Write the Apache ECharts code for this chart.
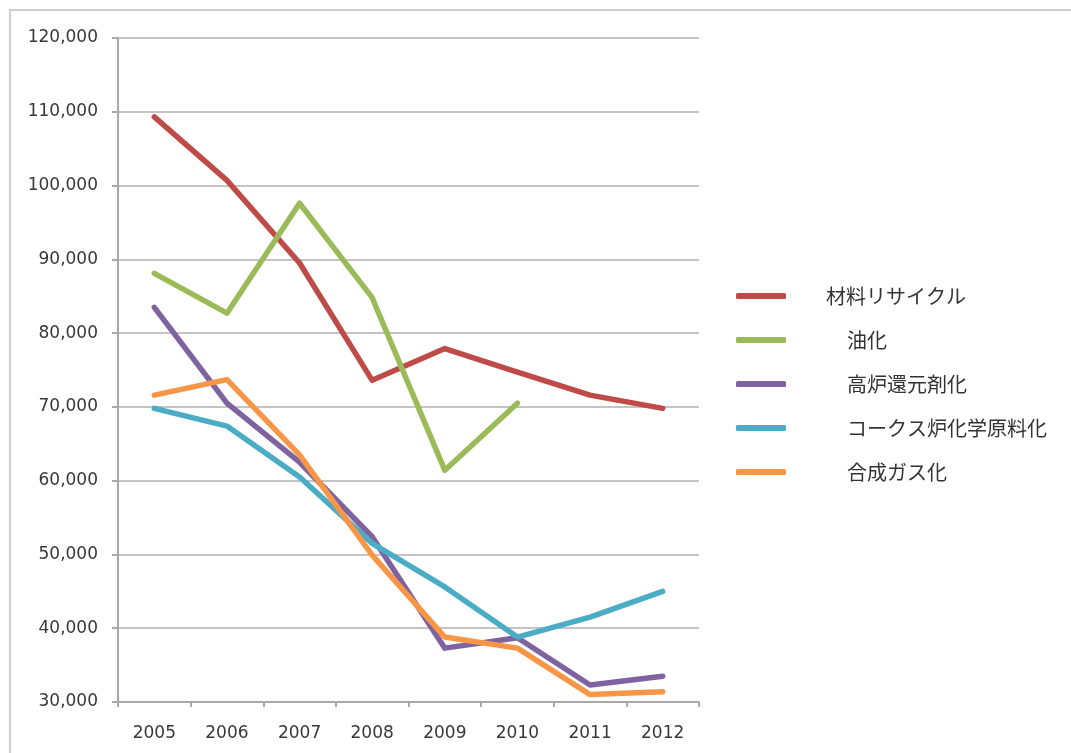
<!DOCTYPE html>
<html>
<head>
<meta charset="utf-8">
<script src="https://cdn.jsdelivr.net/npm/echarts@6/dist/echarts.min.js"></script>
<style>
  html, body { margin: 0; padding: 0; background: #fff; }
  #chart { width: 1071px; height: 753px; }
</style>
</head>
<body>
<div id="chart"></div>
<script>
// Years on the horizontal axis
const years = ['2005', '2006', '2007', '2008', '2009', '2010', '2011', '2012'];

// Series values per year
const materialRecycling = [109300, 100700, 89500, 73600, 77900, 74700, 71600, 69800];
const oilConversion     = [88100, 82700, 97600, 84800, 61400, 70500, null, null];
const blastFurnace      = [83500, 70500, 62500, 52400, 37300, 38700, 32300, 33500];
const cokeOven          = [69800, 67400, 60500, 51500, 45600, 38800, 41500, 45000];
const synGas            = [71600, 73700, 63500, 49900, 38800, 37300, 31000, 31400];

// Series names
const seriesNames = ['材料リサイクル', '油化', '高炉還元剤化', 'コークス炉化学原料化', '合成ガス化'];
const seriesData = [materialRecycling, oilConversion, blastFurnace, cokeOven, synGas];
const seriesColors = ['#BE4B48', '#9BBB59', '#7F63A1', '#4BACC6', '#F79646'];

// Y axis range
const yMin = 30000, yMax = 120000, yStep = 10000;

const chart = echarts.init(document.getElementById('chart'), null, { renderer: 'canvas' });

const numFont = '"DejaVu Sans", "Noto Sans", sans-serif';
const cjkFont = '"Noto Sans CJK JP", "Noto Sans", sans-serif';

chart.setOption({
  backgroundColor: '#ffffff',
  animation: false,
  graphic: [{
    type: 'polyline',
    shape: { points: [[10, 760], [10, 10], [1080, 10]] },
    style: { stroke: '#cfcfcf', lineWidth: 2, fill: null },
    silent: true
  }],
  grid: { left: 118, right: 372, top: 38, bottom: 51 },
  legend: {
    orient: 'vertical',
    left: 731,
    top: 280,
    itemWidth: 50,
    itemHeight: 6,
    itemGap: 22,
    icon: 'roundRect',
    data: seriesNames,
    formatter: function (name) {
      return (name === seriesNames[0] ? '{a|' : '{b|') + name + '}';
    },
    textStyle: {
      fontFamily: cjkFont,
      fontSize: 20,
      color: '#333',
      lineHeight: 22,
      rich: {
        a: { fontFamily: cjkFont, fontSize: 20, color: '#333', padding: [0, 0, 0, 35] },
        b: { fontFamily: cjkFont, fontSize: 20, color: '#333', padding: [0, 0, 0, 56] }
      }
    }
  },
  xAxis: {
    type: 'category',
    data: years,
    boundaryGap: true,
    axisLine: { show: true, lineStyle: { color: '#a8a8a8', width: 2 } },
    axisTick: { show: true, length: 5, lineStyle: { color: '#a8a8a8', width: 2 } },
    axisLabel: { margin: 23, fontFamily: numFont, fontSize: 17, color: '#383838' },
    splitLine: { show: false }
  },
  yAxis: {
    type: 'value',
    min: yMin,
    max: yMax,
    interval: yStep,
    axisLine: { show: true, lineStyle: { color: '#a8a8a8', width: 2 } },
    axisTick: { show: true, length: 6, lineStyle: { color: '#a8a8a8', width: 2 } },
    axisLabel: {
      margin: 20,
      fontFamily: numFont,
      fontSize: 17,
      color: '#383838',
      formatter: function (v) { return v.toLocaleString('en-US'); }
    },
    splitLine: { show: true, lineStyle: { color: '#c4c4c4', width: 2 } }
  },
  series: seriesNames.map(function (name, i) {
    return {
      name: name,
      type: 'line',
      data: seriesData[i],
      showSymbol: false,
      symbol: 'none',
      connectNulls: false,
      color: seriesColors[i],
      lineStyle: { color: seriesColors[i], width: 5.5, cap: 'round', join: 'round' }
    };
  })
});
</script>
</body>
</html>
